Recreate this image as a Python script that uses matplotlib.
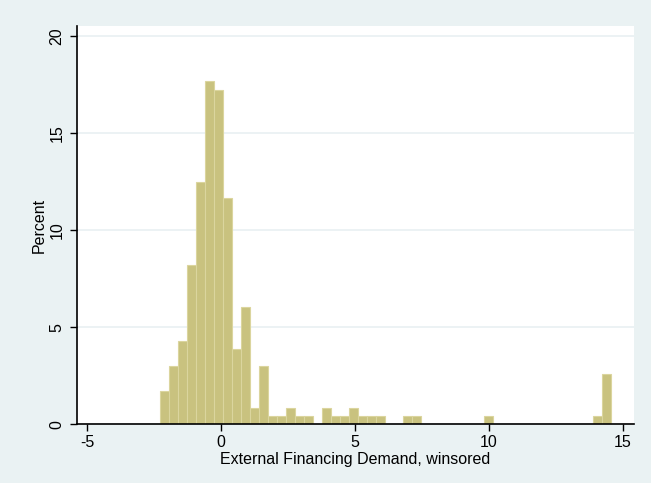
import numpy as np
import matplotlib
matplotlib.use("Agg")
import matplotlib.pyplot as plt

plt.rcParams['font.family'] = ['Liberation Sans', 'DejaVu Sans']

# Histogram of external financing demand (50 equal-width bins, percent of obs.)
bin_start = -2.28
bin_width = 0.3364
percent = [
    1.72, 3.02, 4.31, 8.19, 12.50, 17.67, 17.24, 11.64, 3.88, 6.03,
    0.86, 3.02, 0.43, 0.43, 0.86, 0.43, 0.43, 0.00, 0.86, 0.43,
    0.43, 0.86, 0.43, 0.43, 0.43, 0.00, 0.00, 0.43, 0.43, 0.00,
    0.00, 0.00, 0.00, 0.00, 0.00, 0.00, 0.43, 0.00, 0.00, 0.00,
    0.00, 0.00, 0.00, 0.00, 0.00, 0.00, 0.00, 0.00, 0.43, 2.59,
]
x_ticks = [-5, 0, 5, 10, 15]
y_ticks = [0, 5, 10, 15, 20]
x_label = "External Financing Demand, winsored"
y_label = "Percent"

bg = "#eaf2f3"
grid_col = "#eaf1f3"
bar_face = "#c9c27f"
bar_edge = "#dbd59e"

W, H = 651, 483
fig = plt.figure(figsize=(W / 100, H / 100), dpi=100, facecolor=bg)
left, right, top, bottom = 77, 633.7, 26, 424.3
ax = fig.add_axes([left / W, (H - bottom) / H, (right - left) / W, (bottom - top) / H])
ax.set_facecolor("white")

pct = np.array(percent)
edges = bin_start + bin_width * np.arange(len(pct))
mask = pct > 0
ax.bar(edges[mask], pct[mask], width=bin_width, align="edge",
       color=bar_face, edgecolor=bar_edge, linewidth=0.8, zorder=2)

ax.set_xlim(-5.37, 15.40)
ax.set_ylim(0, 20.53)
ax.set_xticks(x_ticks)
ax.set_yticks(y_ticks)
ax.set_xticklabels([str(v) for v in x_ticks])
ax.set_yticklabels([str(v) for v in y_ticks], rotation=90, va="center")

ax.yaxis.grid(True, color=grid_col, linewidth=1.3, zorder=0)
ax.set_axisbelow(True)

for s in ("top", "right"):
    ax.spines[s].set_visible(False)
for s in ("left", "bottom"):
    ax.spines[s].set_color("black")
    ax.spines[s].set_linewidth(1.2)

ax.tick_params(axis="both", direction="out", length=5, width=1.0,
               color="black", labelsize=11.5, labelcolor="black")
ax.tick_params(axis="x", pad=3)
ax.tick_params(axis="y", pad=4)

ax.set_xlabel(x_label, fontsize=11.5, labelpad=1)
ax.set_ylabel(y_label, fontsize=11.5, labelpad=2)

fig.savefig("out.png", dpi=100, facecolor=bg)
